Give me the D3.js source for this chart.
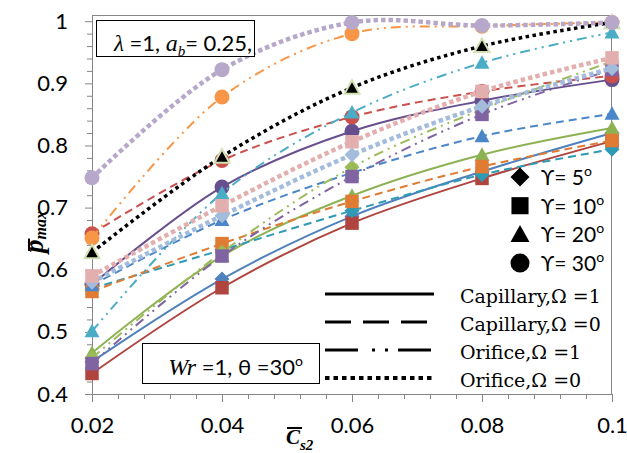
<!DOCTYPE html>
<html>
<head>
<meta charset="utf-8">
<script src="https://cdn.jsdelivr.net/npm/d3@7"></script>
<style>
  body { margin: 0; background: #fff; }
  .axis path, .axis line { stroke: #868686; stroke-width: 1; }
  .axis text { font-family: Lato, sans-serif; font-size: 22px; fill: #000; }
</style>
</head>
<body>
<svg id="chart" width="627" height="453"></svg>
<script>
var xValues = [0.02, 0.04, 0.06, 0.08, 0.1];
var xTicks = [0.02, 0.04, 0.06, 0.08, 0.1];
var yTicks = [0.4, 0.5, 0.6, 0.7, 0.8, 0.9, 1];

// Capillary, Omega = 1 (gamma 5, 10, 20, 30)
var capO1g5 = [0.452, 0.585, 0.686, 0.758, 0.82];
var capO1g10 = [0.433, 0.571, 0.675, 0.747, 0.807];
var capO1g20 = [0.466, 0.622, 0.719, 0.785, 0.828];
var capO1g30 = [0.576, 0.733, 0.823, 0.872, 0.906];
// Capillary, Omega = 0
var capO0g5 = [0.57, 0.632, 0.695, 0.753, 0.794];
var capO0g10 = [0.565, 0.642, 0.71, 0.766, 0.808];
var capO0g20 = [0.575, 0.68, 0.756, 0.815, 0.851];
var capO0g30 = [0.658, 0.776, 0.846, 0.887, 0.912];
// Orifice, Omega = 1
var oriO1g5 = [0.458, 0.628, 0.765, 0.858, 0.935];
var oriO1g10 = [0.449, 0.622, 0.75, 0.85, 0.922];
var oriO1g20 = [0.501, 0.723, 0.853, 0.933, 0.982];
var oriO1g30 = [0.651, 0.878, 0.98, 0.992, 0.998];
// Orifice, Omega = 0
var oriO0g5 = [0.58, 0.687, 0.785, 0.863, 0.924];
var oriO0g10 = [0.59, 0.703, 0.806, 0.887, 0.941];
var oriO0g20 = [0.628, 0.782, 0.893, 0.96, 0.998];
var oriO0g30 = [0.748, 0.922, 0.998, 0.993, 0.998];

var gammaLabels = ["5", "10", "20", "30"];
var typeLabels = ["Capillary,Ω =1", "Capillary,Ω =0", "Orifice,Ω =1", "Orifice,Ω =0"];

// type: 0 solid, 1 dashed, 2 dash-dot-dot, 3 dotted ; shape = gamma index
var series = [
  { values: capO1g5, type: 0, shape: 0, color: "#4F81BD" },
  { values: capO1g10, type: 0, shape: 1, color: "#B0443F" },
  { values: capO1g20, type: 0, shape: 2, color: "#8DB254" },
  { values: capO1g30, type: 0, shape: 3, color: "#674F8E" },
  { values: capO0g5, type: 1, shape: 0, color: "#2E9AB3" },
  { values: capO0g10, type: 1, shape: 1, color: "#E07B33" },
  { values: capO0g20, type: 1, shape: 2, color: "#4A86C8" },
  { values: capO0g30, type: 1, shape: 3, color: "#C9504B" },
  { values: oriO1g5, type: 2, shape: 0, color: "#9BBB59" },
  { values: oriO1g10, type: 2, shape: 1, color: "#8064A2" },
  { values: oriO1g20, type: 2, shape: 2, color: "#4BACC6" },
  { values: oriO1g30, type: 2, shape: 3, color: "#F79646" },
  { values: oriO0g5, type: 3, shape: 0, color: "#A4BCDC" },
  { values: oriO0g10, type: 3, shape: 1, color: "#E3AFAE" },
  { values: oriO0g20, type: 3, shape: 2, color: "#000000", stroke: "#D2E1B4", width: 3.5, dash: "3.5,3.5" },
  { values: oriO0g30, type: 3, shape: 3, color: "#B7A8CB" }
];

var lineStyles = [
  { dash: null, width: 2 },
  { dash: "8,5", width: 2 },
  { dash: "10,5,2,5,2,5", width: 2 },
  { dash: "4.5,3", width: 4.5 }
];

function markerPath(shape, s) {
  if (shape === 0) return "M0," + (-s) + "L" + s + ",0L0," + s + "L" + (-s) + ",0Z";
  if (shape === 1) { var h = s * 0.9; return "M" + (-h) + "," + (-h) + "H" + h + "V" + h + "H" + (-h) + "Z"; }
  if (shape === 2) return "M0," + (-s) + "L" + s + "," + (s * 0.8) + "L" + (-s) + "," + (s * 0.8) + "Z";
  return d3.symbol().type(d3.symbolCircle).size(Math.PI * s * s)();
}

var svg = d3.select("#chart");
var margin = { top: 15, right: 15, bottom: 59, left: 92 };
var width = +svg.attr("width") - margin.left - margin.right;
var height = +svg.attr("height") - margin.top - margin.bottom;

svg.append("rect").attr("width", 627).attr("height", 453).attr("fill", "#fff");

var g = svg.append("g")
  .attr("transform", "translate(" + margin.left + "," + margin.top + ")");

var x = d3.scaleLinear().domain([0.02, 0.1]).range([0, width]);
var y = d3.scaleLinear().domain([0.4, 1.01]).range([height, 0]);

// frame top + right
g.append("path")
  .attr("d", "M0,0.5H" + (width - 0.5) + "V" + height)
  .attr("fill", "none")
  .attr("stroke", "#868686");

// minor ticks
var yMinor = d3.range(0.42, 1.0, 0.02).filter(function (v) {
  return Math.abs(v * 10 - Math.round(v * 10)) > 0.01;
});
var xMinor = d3.range(0.024, 0.1, 0.004).filter(function (v) {
  return Math.abs(v * 50 - Math.round(v * 50)) > 0.01;
});

g.append("g").attr("class", "axis")
  .call(d3.axisLeft(y).tickValues(yMinor).tickSize(5).tickFormat(""))
  .select(".domain").remove();
g.append("g").attr("class", "axis")
  .attr("transform", "translate(0," + height + ")")
  .call(d3.axisBottom(x).tickValues(xMinor).tickSize(5).tickFormat(""))
  .select(".domain").remove();

g.append("g").attr("class", "axis")
  .call(d3.axisLeft(y).tickValues(yTicks).tickSize(7).tickSizeOuter(0).tickPadding(17)
    .tickFormat(d3.format("~g")));

g.append("g").attr("class", "axis")
  .attr("transform", "translate(0," + height + ")")
  .call(d3.axisBottom(x).tickValues(xTicks).tickSize(8).tickSizeOuter(0).tickPadding(15)
    .tickFormat(d3.format("~g")));

// series lines
var line = d3.line()
  .x(function (d, i) { return x(xValues[i]); })
  .y(function (d) { return y(d); })
  .curve(d3.curveCatmullRom.alpha(0.5));

series.forEach(function (s) {
  var st = lineStyles[s.type];
  g.append("path")
    .datum(s.values)
    .attr("d", line)
    .attr("fill", "none")
    .attr("stroke", s.color)
    .attr("stroke-width", s.width || st.width)
    .attr("stroke-dasharray", s.dash || st.dash);

  g.selectAll(null)
    .data(s.values)
    .enter()
    .append("path")
    .attr("transform", function (d, i) {
      return "translate(" + x(xValues[i]) + "," + y(d) + ")";
    })
    .attr("d", markerPath(s.shape, 7.5))
    .attr("fill", s.color)
    .attr("stroke", s.stroke || "none")
    .attr("stroke-width", 2);
});

// info boxes
var serif = "'Liberation Serif', serif";
var sans = "Lato, sans-serif";

g.append("rect")
  .attr("x", 4.5).attr("y", 5.5).attr("width", 158).attr("height", 36)
  .attr("fill", "#fff").attr("stroke", "#000");
var t1 = g.append("text")
  .attr("x", 160).attr("y", 36)
  .attr("text-anchor", "end")
  .attr("font-size", "22px");
t1.append("tspan").attr("font-family", serif).attr("font-style", "italic").attr("font-size", "23px").text("λ");
t1.append("tspan").attr("font-family", sans).text(" =1, ");
t1.append("tspan").attr("font-family", serif).attr("font-style", "italic").attr("font-size", "24px").text("a");
t1.append("tspan").attr("font-family", serif).attr("font-style", "italic").attr("font-size", "15px").attr("dy", 5).text("b");
t1.append("tspan").attr("font-family", sans).attr("dy", -5).text("= 0.25,");

g.append("rect")
  .attr("x", 50.5).attr("y", 328.5).attr("width", 177).attr("height", 40)
  .attr("fill", "#fff").attr("stroke", "#000");
var t2 = g.append("text")
  .attr("x", 211).attr("y", 360)
  .attr("text-anchor", "end")
  .attr("font-size", "22px");
t2.append("tspan").attr("font-family", serif).attr("font-style", "italic").attr("font-size", "24px").text("Wr");
t2.append("tspan").attr("font-family", sans).text(" =1, θ =30");
t2.append("tspan").attr("font-family", sans).attr("font-size", "14px").attr("dy", -9).text("o");

// legend: gamma markers
var legG = svg.append("g").attr("font-family", sans).attr("font-size", "21px");
gammaLabels.forEach(function (lab, i) {
  var by = 185 + i * 28.7;
  legG.append("path")
    .attr("transform", "translate(520," + (by - 8) + ")")
    .attr("d", markerPath(i, 9.5))
    .attr("fill", "#000");
  var t = legG.append("text").attr("x", 541).attr("y", by);
  t.append("tspan").text("ϒ= " + lab);
  t.append("tspan").attr("font-size", "14px").attr("dy", -9).text("o");
});

// legend: line types
var legDash = [null, "26,12", "33,14,3,10,3,10", "4.5,4"];
typeLabels.forEach(function (lab, i) {
  var by = 303 + i * 28;
  svg.append("line")
    .attr("x1", 325).attr("x2", 434)
    .attr("y1", by - 9).attr("y2", by - 9)
    .attr("stroke", "#000")
    .attr("stroke-width", i === 3 ? 4 : 3)
    .attr("stroke-dasharray", legDash[i]);
  svg.append("text")
    .attr("x", 460).attr("y", by)
    .attr("font-family", "'DejaVu Serif', serif")
    .attr("font-size", "19px")
    .text(lab);
});

// axis titles
var yl = svg.append("text")
  .attr("transform", "translate(43,253) rotate(-90)")
  .attr("font-family", serif)
  .attr("font-weight", "bold")
  .attr("font-style", "italic");
yl.append("tspan").attr("font-size", "27px").text("p");
yl.append("tspan").attr("font-size", "16px").attr("dy", 3).text("max");
var pBox = yl.node().getExtentOfChar(0);
svg.append("line")
  .attr("transform", "translate(43,253) rotate(-90)")
  .attr("x1", pBox.x + 2).attr("x2", pBox.x + pBox.width + 1)
  .attr("y1", -14).attr("y2", -14)
  .attr("stroke", "#000").attr("stroke-width", 2);

var xl = svg.append("text")
  .attr("x", 286).attr("y", 444)
  .attr("font-family", serif)
  .attr("font-weight", "bold")
  .attr("font-style", "italic");
xl.append("tspan").attr("font-size", "21px").text("C");
xl.append("tspan").attr("font-size", "15px").attr("dy", 6).text("s2");
var cBox = xl.node().getExtentOfChar(0);
svg.append("line")
  .attr("x1", cBox.x + 1).attr("x2", cBox.x + cBox.width + 2)
  .attr("y1", 428).attr("y2", 428)
  .attr("stroke", "#000").attr("stroke-width", 2);
</script>
</body>
</html>
